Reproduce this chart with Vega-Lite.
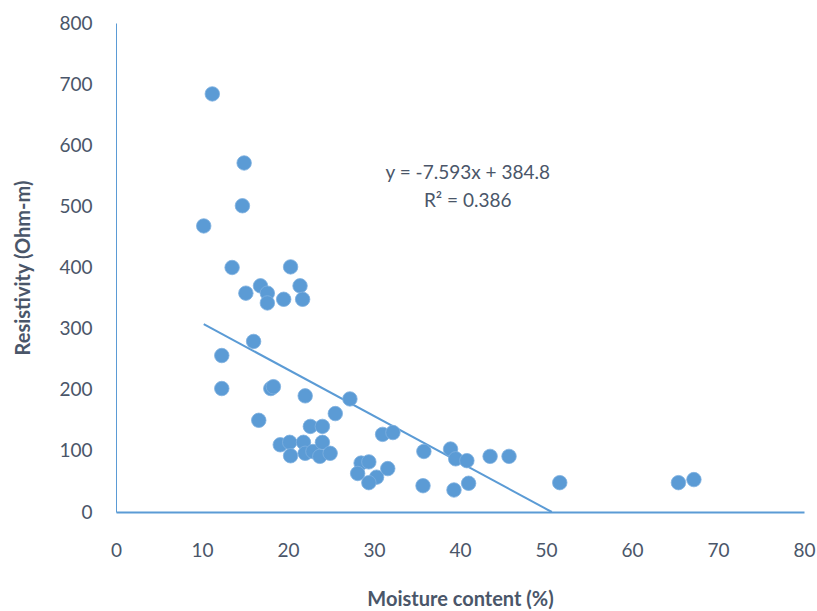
{
  "$schema": "https://vega.github.io/schema/vega-lite/v6.json",
  "autosize": "none",
  "width": 688,
  "height": 489,
  "padding": {"left": 116, "top": 23, "right": 13, "bottom": 99},
  "background": "white",
  "config": {
    "view": {"stroke": null},
    "font": "Lato",
    "axis": {
      "grid": false,
      "ticks": false,
      "labelFlush": false,
      "labelOverlap": false,
      "domainColor": "#5B9BD5",
      "labelFont": "Lato",
      "labelFontSize": 19,
      "labelColor": "#4a5669",
      "titleFont": "Lato",
      "titleFontSize": 20,
      "titleFontWeight": "bold",
      "titleColor": "#4a5669"
    }
  },
  "datasets": {
    "points": [
      {"m": 11.2, "r": 684}, {"m": 14.9, "r": 571}, {"m": 14.7, "r": 501}, {"m": 10.2, "r": 468},
      {"m": 13.5, "r": 400}, {"m": 20.3, "r": 401}, {"m": 15.1, "r": 358}, {"m": 16.8, "r": 370},
      {"m": 17.6, "r": 358}, {"m": 17.6, "r": 342}, {"m": 19.5, "r": 348}, {"m": 21.4, "r": 370},
      {"m": 21.7, "r": 348}, {"m": 16.0, "r": 279}, {"m": 12.3, "r": 256}, {"m": 12.3, "r": 202},
      {"m": 18.0, "r": 202}, {"m": 18.3, "r": 205}, {"m": 22.0, "r": 190}, {"m": 27.2, "r": 185},
      {"m": 25.5, "r": 161}, {"m": 16.6, "r": 150}, {"m": 22.6, "r": 140}, {"m": 24.0, "r": 140},
      {"m": 19.1, "r": 110}, {"m": 20.2, "r": 114}, {"m": 20.3, "r": 92}, {"m": 21.8, "r": 114},
      {"m": 22.0, "r": 96}, {"m": 22.9, "r": 99}, {"m": 24.0, "r": 114}, {"m": 23.7, "r": 91},
      {"m": 24.9, "r": 96}, {"m": 28.5, "r": 80}, {"m": 29.4, "r": 82}, {"m": 28.1, "r": 63},
      {"m": 30.3, "r": 57}, {"m": 29.4, "r": 48}, {"m": 31.6, "r": 71}, {"m": 31.0, "r": 127},
      {"m": 32.2, "r": 130}, {"m": 35.8, "r": 99}, {"m": 35.7, "r": 43}, {"m": 38.9, "r": 103},
      {"m": 39.5, "r": 87}, {"m": 40.8, "r": 84}, {"m": 43.5, "r": 91}, {"m": 45.7, "r": 91},
      {"m": 39.3, "r": 36}, {"m": 41.0, "r": 47}, {"m": 51.6, "r": 48}, {"m": 65.4, "r": 48},
      {"m": 67.2, "r": 53}
    ],
    "trend": [
      {"m": 10.2, "r": 307.4},
      {"m": 50.68, "r": 0}
    ],
    "labels": [
      {"m": 40.9, "r": 555, "t": "y = -7.593x + 384.8"},
      {"m": 40.9, "r": 509, "t": "R² = 0.386"}
    ]
  },
  "layer": [
    {
      "data": {"name": "trend"},
      "mark": {"type": "line", "color": "#5B9BD5", "strokeWidth": 2},
      "encoding": {
        "x": {"field": "m", "type": "quantitative", "scale": {"domain": [0, 80]},
              "axis": {"values": [0,10,20,30,40,50,60,70,80], "title": "Moisture content (%)", "labelPadding": 29, "titlePadding": 29, "domainWidth": 2}},
        "y": {"field": "r", "type": "quantitative", "scale": {"domain": [0, 800]},
              "axis": {"values": [0,100,200,300,400,500,600,700,800], "title": "Resistivity (Ohm-m)", "labelPadding": 24, "titlePadding": 25, "domainWidth": 1}}
      }
    },
    {
      "data": {"name": "points"},
      "mark": {"type": "circle", "size": 210, "color": "#5B9BD5", "opacity": 1, "stroke": "#7eb0e0", "strokeWidth": 0.8},
      "encoding": {
        "x": {"field": "m", "type": "quantitative"},
        "y": {"field": "r", "type": "quantitative"}
      }
    },
    {
      "data": {"name": "labels"},
      "mark": {"type": "text", "fontSize": 19, "color": "#4a5669", "font": "Lato", "align": "center", "baseline": "middle"},
      "encoding": {
        "x": {"field": "m", "type": "quantitative"},
        "y": {"field": "r", "type": "quantitative"},
        "text": {"field": "t"}
      }
    }
  ]
}
